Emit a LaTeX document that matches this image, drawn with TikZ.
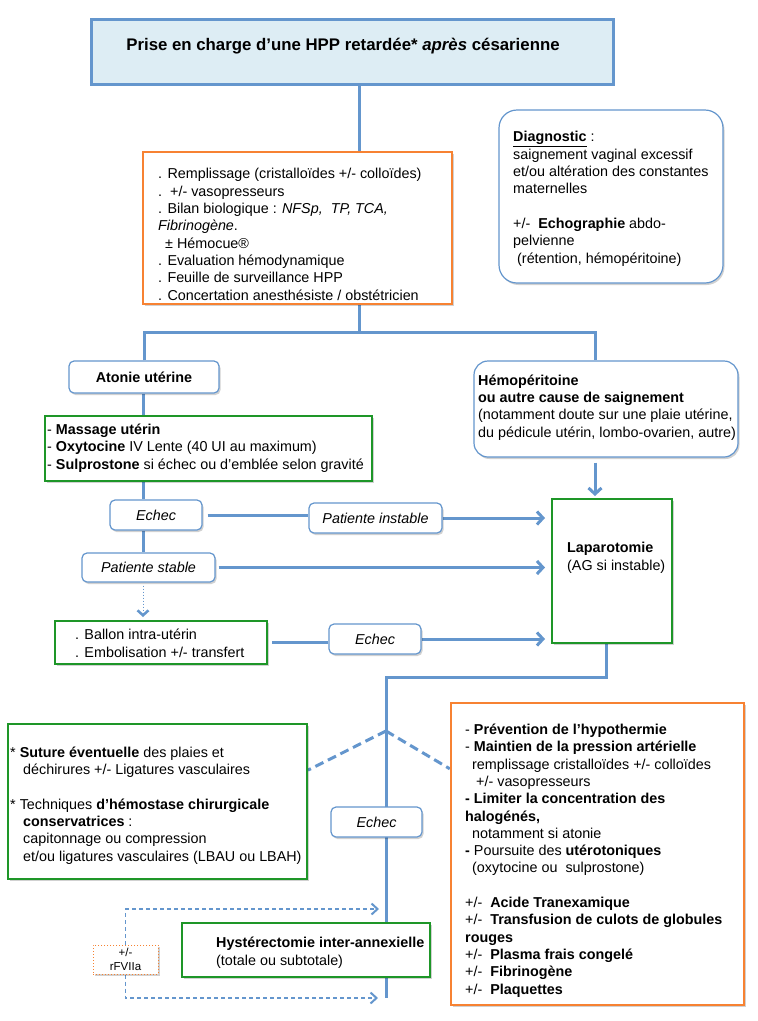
\documentclass[tikz,border=0pt]{standalone}
\usepackage{fontspec}
\setmainfont{Liberation Sans}
\usetikzlibrary{arrows.meta,positioning,calc,shadows,backgrounds}
\definecolor{lineblue}{HTML}{6496CD}
\definecolor{titlefill}{HTML}{DDEDF4}
\definecolor{boxorange}{HTML}{F78232}
\definecolor{boxgreen}{HTML}{1E9628}
\newcommand{\bodyfont}{\fontsize{14.35}{17.3}\selectfont}

\begin{document}
\begin{tikzpicture}[x=1pt,y=-1pt,font=\bodyfont,
  every node/.style={inner sep=0pt},
  softshadow/.style={drop shadow={shadow xshift=1.5pt,shadow yshift=-2pt,opacity=.18,fill=black}},
  titlebox/.style={draw=lineblue,line width=3pt,fill=titlefill,softshadow},
  orangebox/.style={draw=boxorange,line width=2.4pt,fill=white,softshadow},
  greenbox/.style={draw=boxgreen,line width=2pt,fill=white,softshadow},
  roundbox/.style={draw=lineblue,line width=1.2pt,fill=white,rounded corners=5pt,softshadow},
  boxtext/.style={align=left,anchor=base west},
  conn/.style={draw=lineblue,line width=3pt},
  arr/.style={conn,-{Straight Barb[length=6pt,width=13pt]},shorten >=6pt},
  dashconn/.style={conn,dash pattern=on 9pt off 5pt},
  dasharr/.style={draw=lineblue,line width=1.3pt,dash pattern=on 4pt off 3pt,-{Straight Barb[length=6pt,width=11pt,line width=2pt]}},
  dotarr/.style={draw=lineblue,line width=1pt,dotted,-{Straight Barb[length=5pt,width=11pt,line width=2.5pt]},shorten >=3pt}]
\useasboundingbox (0,0) rectangle (758,1021);

% title and first measures
\node[titlebox,minimum width=522,minimum height=65] (title) at (352,51.5) {};
\node[font=\fontsize{16.8}{20}\selectfont\bfseries] (titletxt) at (343,46) {Prise en charge d’une HPP retardée* \textit{après} césarienne};

% text nodes: base = baseline of the last line
\node[orangebox,minimum width=309,minimum height=152] (care) at (297.5,228) {};
\node[boxtext] (caretxt) at (158,300) {. Remplissage (cristalloïdes +/- colloïdes)\\
.\ \ +/- vasopresseurs\\
. Bilan biologique : \textit{NFSp,\ \ TP, TCA,}\\
\textit{Fibrinogène}.\\
\hspace*{7pt}± Hémocue®\\
. Evaluation hémodynamique\\
. Feuille de surveillance HPP\\
. Concertation anesthésiste / obstétricien};

\node[roundbox,rounded corners=18pt,minimum width=224,minimum height=173] (diag) at (611,196.5) {};
\node[boxtext] (diagtxt) at (513,263) {\underline{\textbf{Diagnostic}} :\\
saignement vaginal excessif\\
et/ou altération des constantes\\
maternelles\\[17.3pt]
+/-\ \ \textbf{Echographie} abdo-\\
pelvienne\\
\hspace*{4pt}(rétention, hémopéritoine)};

% left branch
\node[roundbox,minimum width=150,minimum height=32,font=\bodyfont\bfseries] (atonie) at (144,377) {Atonie utérine};

\node[greenbox,minimum width=327,minimum height=65] (massage) at (208.5,448.5) {};
\node[boxtext] (massagetxt) at (47,469) {- \textbf{Massage utérin}\\
- \textbf{Oxytocine} IV Lente (40 UI au maximum)\\
- \textbf{Sulprostone} si échec ou d’emblée selon gravité};

\node[roundbox,minimum width=92,minimum height=30,font=\bodyfont\itshape] (echecA) at (156,515) {Echec};
\node[roundbox,minimum width=133,minimum height=30,font=\bodyfont\itshape] (instable) at (375.5,518) {Patiente instable};
\node[roundbox,minimum width=133,minimum height=29,font=\bodyfont\itshape] (stable) at (148.5,567.5) {Patiente stable};

\node[greenbox,minimum width=212,minimum height=43] (ballon) at (161,642.5) {};
\node[boxtext] (ballontxt) at (75,657) {. Ballon intra-utérin\\
. Embolisation +/- transfert};
\node[roundbox,minimum width=92,minimum height=30,font=\bodyfont\itshape] (echecB) at (375,639) {Echec};

% right branch
\node[roundbox,rounded corners=14pt,minimum width=264,minimum height=96] (hemo) at (606,409) {};
\node[boxtext] (hemotxt) at (478,437) {\textbf{Hémopéritoine}\\
\textbf{ou autre cause de saignement}\\
(notamment doute sur une plaie utérine,\\
du pédicule utérin, lombo-ovarien, autre)};

\node[greenbox,minimum width=120,minimum height=144] (lapa) at (612,571) {};
\node[boxtext] (lapatxt) at (567,570) {\textbf{Laparotomie}\\
(AG si instable)};

% after laparotomy
\node[greenbox,minimum width=299,minimum height=155] (suture) at (157.5,801.5) {};
\node[boxtext] (suturetxt) at (10,861) {* \textbf{Suture éventuelle} des plaies et\\
\hspace*{13pt}déchirures +/- Ligatures vasculaires\\[17.3pt]
* Techniques \textbf{d’hémostase chirurgicale}\\
\hspace*{13pt}\textbf{conservatrices} :\\
\hspace*{13pt}capitonnage ou compression\\
\hspace*{13pt}et/ou ligatures vasculaires (LBAU ou LBAH)};

\node[orangebox,minimum width=293,minimum height=302] (support) at (597.5,854) {};
\node[boxtext] (supporttxt) at (465,994) {- \textbf{Prévention de l’hypothermie}\\
- \textbf{Maintien de la pression artérielle}\\
\hspace*{7pt}remplissage cristalloïdes +/- colloïdes\\
\hspace*{11pt}+/- vasopresseurs\\
\textbf{- Limiter la concentration des}\\
\textbf{halogénés,}\\
\hspace*{7pt}notamment si atonie\\
\textbf{-} Poursuite des \textbf{utérotoniques}\\
\hspace*{7pt}(oxytocine ou\ \ sulprostone)\\[17.3pt]
+/-\ \ \textbf{Acide Tranexamique}\\
+/-\ \ \textbf{Transfusion de culots de globules}\\
\textbf{rouges}\\
+/-\ \ \textbf{Plasma frais congelé}\\
+/-\ \ \textbf{Fibrinogène}\\
+/-\ \ \textbf{Plaquettes}};

\node[roundbox,minimum width=91,minimum height=30,font=\bodyfont\itshape] (echecC) at (376.5,822) {Echec};

\node[greenbox,minimum width=248,minimum height=54] (hyst) at (306,950) {};
\node[boxtext] (hysttxt) at (216,965) {\textbf{Hystérectomie inter-annexielle}\\
(totale ou subtotale)};

\node[draw=boxorange,dotted,line width=1pt,fill=white,softshadow,minimum width=65,minimum height=29,
  align=center,font=\fontsize{11.5}{14}\selectfont] (rfv) at (125.5,959.5) {+/-\\rFVIIa};

% connectors
\coordinate (trunk) at (359,0);
\coordinate (split) at (359,332);
\coordinate (leftcol) at (143,0);
\coordinate (hemocol) at (595,0);
\coordinate (lapacol) at (606,0);
\coordinate (bend) at (386,677);
\coordinate (fork) at (386,731);
\coordinate (trunkend) at (386,998);
\coordinate (rfvtop) at (379,909);
\coordinate (rfvbot) at (378,998);

\begin{scope}[on background layer]
\fill[white] (0,0) rectangle (758,1021);
\draw[conn] (title.south -| trunk) -- (care.north -| trunk);
\draw[conn] (care.south -| trunk) -- (split);
\draw[conn] (atonie.north) |- (split) -| (hemo.north -| hemocol);
\draw[conn] (atonie.south -| leftcol) -- (massage.north -| leftcol);
\draw[conn] (massage.south -| leftcol) -- (echecA.north -| leftcol);
\draw[conn] (echecA.south -| leftcol) -- (stable.north -| leftcol);
\draw[conn,shorten <=5pt] (echecA.east) -- (instable.west |- echecA.east);
\draw[arr] (instable.east) -- (lapa.west |- instable.east);
\draw[arr,shorten <=3pt] (stable.east) -- (lapa.west |- stable.east);
\draw[dotarr,shorten <=3pt] (stable.south -| leftcol) -- (ballon.north -| leftcol);
\draw[conn,shorten <=4pt] (ballon.east) -- (echecB.west |- ballon.east);
\draw[arr] (echecB.east) -- (lapa.west |- echecB.east);
\draw[arr,shorten >=2pt,shorten <=5pt] (hemo.south -| hemocol) -- (lapa.north -| hemocol);
\draw[conn] (lapa.south -| lapacol) |- (bend) -- (trunkend);
\draw[dashconn] (fork) -- ($(suture.north east)!0.3!(suture.south east)$);
\draw[dashconn] (fork) -- ($(support.north west)!0.22!(support.south west)$);
\draw[dasharr] (rfv.north) |- (rfvtop);
\draw[dasharr] (rfv.south) |- (rfvbot);
\end{scope}
\end{tikzpicture}
\end{document}
